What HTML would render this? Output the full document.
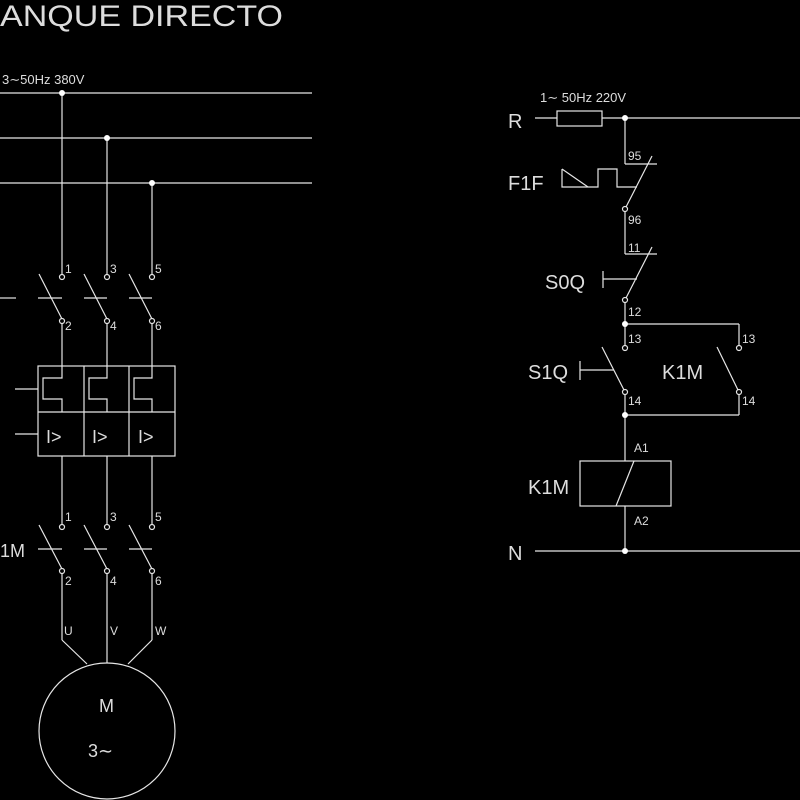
<!DOCTYPE html>
<html><head><meta charset="utf-8"><style>
html,body{margin:0;padding:0;background:#000;}
svg{display:block}
text{font-family:"Liberation Sans",sans-serif;fill:#ddd;}
</style></head><body>
<svg width="800" height="800" viewBox="0 0 800 800" xmlns="http://www.w3.org/2000/svg">
<g stroke="#e6e6e6" stroke-width="1.2" fill="none">
<!-- buses -->
<line x1="0" y1="93" x2="312" y2="93"/>
<line x1="0" y1="138" x2="312" y2="138"/>
<line x1="0" y1="183" x2="312" y2="183"/>
<!-- phases -->
<g id="ph">
<line x1="62" y1="93" x2="62" y2="274"/>
<circle cx="62" cy="277" r="2.5"/>
<line x1="39" y1="274" x2="62" y2="319"/>
<line x1="38" y1="298" x2="62" y2="298"/>
<circle cx="62" cy="321" r="2.5"/>
<line x1="62" y1="323" x2="62" y2="366"/>
<polyline points="62,366 62,378 43,378 43,399 62,399 62,412"/>
<line x1="62" y1="456" x2="62" y2="524"/>
<circle cx="62" cy="527" r="2.5"/>
<line x1="39" y1="525" x2="62" y2="569"/>
<line x1="38" y1="549" x2="62" y2="549"/>
<circle cx="62" cy="571" r="2.5"/>
<line x1="62" y1="573" x2="62" y2="640"/>
</g>
<line x1="107" y1="138" x2="107" y2="274"/>
<circle cx="107" cy="277" r="2.5"/>
<line x1="84" y1="274" x2="107" y2="319"/>
<line x1="84" y1="298" x2="107" y2="298"/>
<circle cx="107" cy="321" r="2.5"/>
<line x1="107" y1="323" x2="107" y2="366"/>
<polyline points="107,366 107,378 89,378 89,399 107,399 107,412"/>
<line x1="107" y1="456" x2="107" y2="524"/>
<circle cx="107" cy="527" r="2.5"/>
<line x1="84" y1="525" x2="107" y2="569"/>
<line x1="84" y1="549" x2="107" y2="549"/>
<circle cx="107" cy="571" r="2.5"/>
<line x1="107" y1="573" x2="107" y2="663"/>
<line x1="152" y1="183" x2="152" y2="274"/>
<circle cx="152" cy="277" r="2.5"/>
<line x1="129" y1="274" x2="152" y2="319"/>
<line x1="129" y1="298" x2="152" y2="298"/>
<circle cx="152" cy="321" r="2.5"/>
<line x1="152" y1="323" x2="152" y2="366"/>
<polyline points="152,366 152,378 134,378 134,399 152,399 152,412"/>
<line x1="152" y1="456" x2="152" y2="524"/>
<circle cx="152" cy="527" r="2.5"/>
<line x1="129" y1="525" x2="152" y2="569"/>
<line x1="129" y1="549" x2="152" y2="549"/>
<circle cx="152" cy="571" r="2.5"/>
<line x1="152" y1="573" x2="152" y2="640"/>
<line x1="0" y1="298" x2="16" y2="298"/>
<!-- breaker box -->
<rect x="38" y="366" width="137" height="90"/>
<line x1="38" y1="412" x2="175" y2="412"/>
<line x1="84" y1="366" x2="84" y2="456"/>
<line x1="129" y1="366" x2="129" y2="456"/>
<line x1="15" y1="389" x2="38" y2="389"/>
<line x1="15" y1="434" x2="38" y2="434"/>
<!-- motor -->
<line x1="62" y1="640" x2="87" y2="664"/>
<line x1="152" y1="640" x2="128" y2="664"/>
<circle cx="107" cy="731" r="68"/>
<!-- right circuit -->
<line x1="535" y1="118" x2="800" y2="118"/>
<rect x="557" y="111" width="45" height="15" fill="#000"/>
<line x1="625" y1="118" x2="625" y2="164"/>
<line x1="625" y1="164" x2="657" y2="164"/>
<line x1="652" y1="156" x2="626" y2="207"/>
<circle cx="625" cy="209" r="2.5"/>
<polyline points="562,169 562,187 598,187 598,169 617,169 617,187 637,187"/>
<line x1="562" y1="169" x2="588" y2="187"/>
<line x1="625" y1="211" x2="625" y2="254"/>
<line x1="625" y1="254" x2="657" y2="254"/>
<line x1="652" y1="247" x2="626" y2="298"/>
<circle cx="625" cy="300" r="2.5"/>
<line x1="603" y1="271" x2="603" y2="288"/>
<line x1="603" y1="279" x2="637" y2="279"/>
<line x1="625" y1="302" x2="625" y2="346"/>
<line x1="625" y1="324" x2="739" y2="324"/>
<line x1="739" y1="324" x2="739" y2="346"/>
<circle cx="625" cy="348" r="2.5"/>
<circle cx="739" cy="348" r="2.5"/>
<line x1="602" y1="347" x2="624" y2="390"/>
<circle cx="625" cy="392" r="2.5"/>
<line x1="580" y1="361" x2="580" y2="380"/>
<line x1="580" y1="370" x2="614" y2="370"/>
<line x1="717" y1="347" x2="738" y2="390"/>
<circle cx="739" cy="392" r="2.5"/>
<line x1="625" y1="394" x2="625" y2="461"/>
<line x1="739" y1="394" x2="739" y2="415"/>
<line x1="625" y1="415" x2="739" y2="415"/>
<rect x="580" y="461" width="91" height="45"/>
<line x1="634" y1="461" x2="616" y2="506"/>
<line x1="625" y1="506" x2="625" y2="551"/>
<line x1="535" y1="551" x2="800" y2="551"/>
</g>
<g fill="#fff">
<circle cx="62" cy="93" r="3"/><circle cx="107" cy="138" r="3"/><circle cx="152" cy="183" r="3"/>
<circle cx="625" cy="118" r="3"/><circle cx="625" cy="324" r="3"/><circle cx="625" cy="415" r="3"/><circle cx="625" cy="551" r="3"/>
</g>
<text x="0" y="26" font-size="30" textLength="283" lengthAdjust="spacingAndGlyphs">ANQUE  DIRECTO</text>
<text x="2" y="84" font-size="13">3∼50Hz 380V</text>
<g font-size="12">
<text x="65" y="273">1</text><text x="110" y="273">3</text><text x="155" y="273">5</text>
<text x="65" y="330">2</text><text x="110" y="330">4</text><text x="155" y="330">6</text>
<text x="65" y="521">1</text><text x="110" y="521">3</text><text x="155" y="521">5</text>
<text x="65" y="585">2</text><text x="110" y="585">4</text><text x="155" y="585">6</text>
<text x="64" y="635">U</text><text x="110" y="635">V</text><text x="155" y="635">W</text>
<text x="628" y="160">95</text><text x="628" y="224">96</text><text x="628" y="252">11</text><text x="628" y="316">12</text>
<text x="628" y="343">13</text><text x="742" y="343">13</text><text x="628" y="405">14</text><text x="742" y="405">14</text>
<text x="634" y="452">A1</text><text x="634" y="525">A2</text>
</g>
<g font-size="18">
<text x="46" y="443">I&gt;</text><text x="92" y="443">I&gt;</text><text x="138" y="443">I&gt;</text>
<text x="0" y="557">1M</text>
<text x="99" y="712">M</text>
<text x="88" y="757">3∼</text>
</g>
<text x="540" y="102" font-size="13">1∼ 50Hz  220V</text>
<g font-size="20">
<text x="508" y="128">R</text>
<text x="508" y="190">F1F</text>
<text x="545" y="289">S0Q</text>
<text x="528" y="379">S1Q</text>
<text x="662" y="379">K1M</text>
<text x="528" y="494">K1M</text>
<text x="508" y="560">N</text>
</g>
</svg>
</body></html>
